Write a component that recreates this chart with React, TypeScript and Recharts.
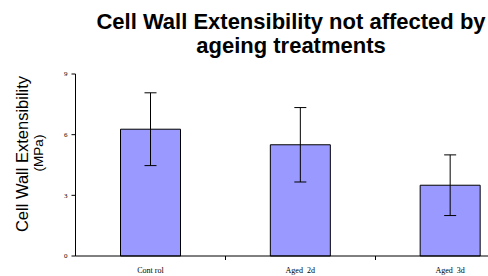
import { Bar, BarChart, ErrorBar, XAxis, YAxis } from 'recharts'

const categories = ['Cont rol', 'Aged  2d', 'Aged  3d']
const extensibility = [6.27, 5.5, 3.5]
const errors = [1.8, 1.84, 1.5]
const yTicks = [0, 3, 6, 9]

const data = categories.map((name, i) => ({
  name,
  value: extensibility[i],
  err: errors[i],
}))

const CHART_W = 525
const AXIS_W = 75
const BAND = (CHART_W - AXIS_W) / categories.length

const serif = '"Liberation Serif", "Times New Roman", serif'
const sans = '"Liberation Sans", Arial, sans-serif'

// label in the middle of the band, tick mark on the band's right edge
function CategoryTick(props: any) {
  const { x, y, payload, index } = props
  const edge = Math.round(x + BAND / 2) + 0.5
  return (
    <g>
      {index < categories.length - 1 && (
        <line x1={edge} x2={edge} y1={y - 8} y2={y - 4} stroke="#000" />
      )}
      <text
        x={x}
        y={y + 9}
        textAnchor="middle"
        fontFamily={serif}
        fontSize={8}
        fill="#000"
        style={{ whiteSpace: 'pre' }}
      >
        {payload.value}
      </text>
    </g>
  )
}

function YTitle() {
  const cy = 154
  return (
    <g fontFamily={sans} fill="#000">
      <text
        x={22}
        y={cy}
        transform={`rotate(-90, 22, ${cy})`}
        textAnchor="middle"
        dominantBaseline="central"
        fontSize={16.5}
      >
        Cell Wall Extensibility
      </text>
      <text
        x={38}
        y={cy - 1}
        transform={`rotate(-90, 38, ${cy - 1})`}
        textAnchor="middle"
        dominantBaseline="central"
        fontSize={13.5}
      >
        (MPa)
      </text>
    </g>
  )
}

export default function App() {
  return (
    <div
      style={{
        position: 'absolute',
        left: 0,
        top: 0,
        width: 488,
        height: 276,
        overflow: 'hidden',
        background: '#fff',
      }}
    >
      <div
        style={{
          position: 'absolute',
          left: 81,
          width: 420,
          top: 10,
          textAlign: 'center',
          fontFamily: sans,
          fontWeight: 'bold',
          fontSize: 22,
          lineHeight: '24px',
          whiteSpace: 'nowrap',
        }}
      >
        Cell Wall Extensibility not affected by
        <br />
        ageing treatments
      </div>
      <BarChart
        width={CHART_W}
        height={276}
        data={data}
        margin={{ top: 74, right: 0, bottom: 0, left: 0.5 }}
        barCategoryGap={0}
      >
        <XAxis
          dataKey="name"
          height={20}
          axisLine={{ stroke: '#000' }}
          tickLine={false}
          tick={<CategoryTick />}
          interval={0}
        />
        <YAxis
          width={AXIS_W}
          domain={[0, 9]}
          ticks={yTicks}
          interval={0}
          axisLine={{ stroke: '#000' }}
          tickLine={{ stroke: '#000' }}
          tickSize={4}
          tickMargin={4}
          tick={{ fontFamily: serif, fontSize: 7, fill: '#000' }}
          label={<YTitle />}
        />
        <Bar
          dataKey="value"
          barSize={60}
          fill="#9999FF"
          stroke="#000"
          strokeWidth={1}
          isAnimationActive={false}
        >
          <ErrorBar dataKey="err" width={6} stroke="#000" strokeWidth={1} />
        </Bar>
      </BarChart>
    </div>
  )
}
